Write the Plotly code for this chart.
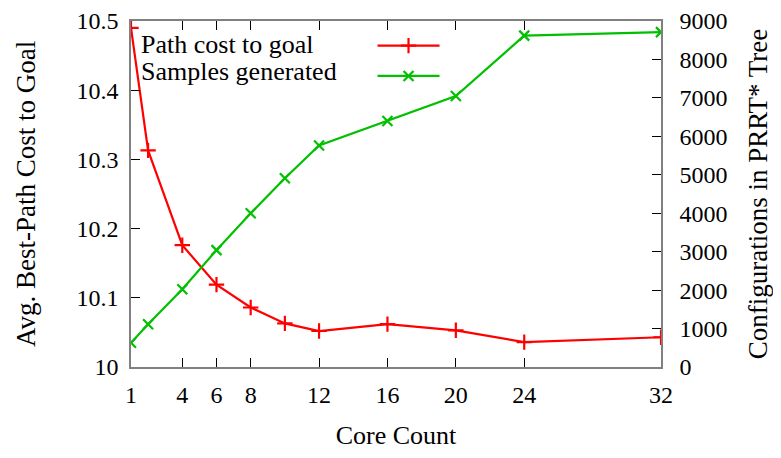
import plotly.graph_objects as go

cores = [1, 2, 4, 6, 8, 10, 12, 16, 20, 24, 32]
path_cost = [10.490, 10.313, 10.176, 10.119, 10.086, 10.063, 10.052, 10.062, 10.053, 10.036, 10.043]
samples = [630, 1110, 2020, 3040, 4000, 4910, 5760, 6400, 7050, 8620, 8710]
x_ticks = [1, 4, 6, 8, 12, 16, 20, 24, 32]

RED = "#ff0000"
GREEN = "#00c000"
FONT = "Liberation Serif"
FS = 24

red_marker = dict(symbol="cross-thin", size=11, line=dict(color=RED, width=2.2))
green_marker = dict(symbol="x-thin", size=10, line=dict(color=GREEN, width=2.2))

fig = go.Figure()
fig.add_trace(go.Scatter(
    x=cores, y=path_cost, mode="lines+markers", name="Path cost to goal",
    line=dict(color=RED, width=2.2), marker=red_marker,
    showlegend=False, yaxis="y"))
fig.add_trace(go.Scatter(
    x=cores, y=samples, mode="lines+markers", name="Samples generated",
    line=dict(color=GREEN, width=2.2), marker=green_marker,
    showlegend=False, yaxis="y2"))
# legend samples (no data) – labels drawn as annotations to the left, gnuplot style
fig.add_trace(go.Scatter(
    x=[None], y=[None], mode="lines+markers", name=" ",
    line=dict(color=RED, width=2.2), marker=red_marker, showlegend=True))
fig.add_trace(go.Scatter(
    x=[None], y=[None], mode="lines+markers", name=" ",
    line=dict(color=GREEN, width=2.2), marker=green_marker, showlegend=True, yaxis="y2"))

axis_common = dict(showgrid=False, zeroline=False, ticks="inside", ticklen=9,
                   tickcolor="#000000", linecolor="#808080", linewidth=1.5,
                   automargin=False,
                   tickfont=dict(family=FONT, size=FS, color="#000000"))

# page body has an 8px margin, so the figure is sized/margined to land the plot
# area at the same window pixels as the reference
fig.update_layout(
    width=765, height=442,
    margin=dict(l=123, r=112, t=13, b=83),
    paper_bgcolor="white", plot_bgcolor="white",
    font=dict(family=FONT, size=FS, color="#000000"),
    xaxis=dict(range=[1, 32], tickvals=x_ticks, showline=True, mirror="ticks",
               ticklabelstandoff=5,
               title=dict(text="Core Count", font=dict(family=FONT, size=26), standoff=27),
               **axis_common),
    yaxis=dict(range=[10, 10.5], dtick=0.1, showline=True, ticklabelstandoff=6,
               title=dict(text="Avg. Best-Path Cost to Goal", font=dict(family=FONT, size=27), standoff=33),
               **axis_common),
    yaxis2=dict(range=[0, 9000], dtick=1000, tickformat="d", overlaying="y", side="right",
                showline=True, ticklabelstandoff=12,
                title=dict(text="Configurations in PRRT* Tree", font=dict(family=FONT, size=27), standoff=30),
                **axis_common),
    legend=dict(x=0.4557, y=0.987, xanchor="left", yanchor="top", bgcolor="rgba(0,0,0,0)",
                font=dict(family=FONT, size=21), itemwidth=62, tracegroupgap=0),
    annotations=[
        dict(text="Path cost to goal", xref="paper", yref="paper", x=0.0166, y=0.9335,
             xanchor="left", yanchor="middle", showarrow=False, height=27, borderpad=0,
             font=dict(family=FONT, size=26)),
        dict(text="Samples generated", xref="paper", yref="paper", x=0.0166, y=0.854,
             xanchor="left", yanchor="middle", showarrow=False, height=27, borderpad=0,
             font=dict(family=FONT, size=26)),
    ],
)

fig.write_html("out.html")
